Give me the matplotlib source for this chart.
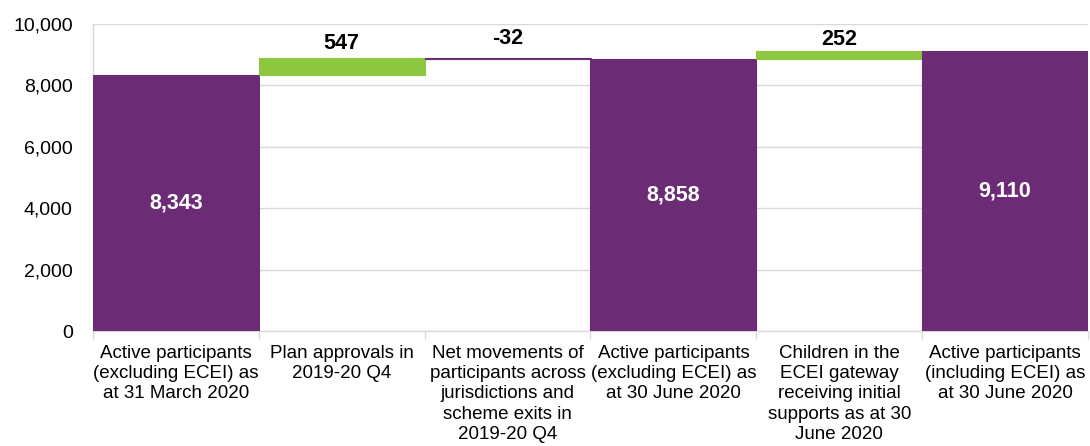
import matplotlib.pyplot as plt
from matplotlib.ticker import FuncFormatter, FixedLocator

plt.rcParams['font.family'] = ['Liberation Sans', 'DejaVu Sans']

categories = [
    'Active participants\n(excluding ECEI) as\nat 31 March 2020',
    'Plan approvals in\n2019-20 Q4',
    'Net movements of\nparticipants across\njurisdictions and\nscheme exits in\n2019-20 Q4',
    'Active participants\n(excluding ECEI) as\nat 30 June 2020',
    'Children in the\nECEI gateway\nreceiving initial\nsupports as at 30\nJune 2020',
    'Active participants\n(including ECEI) as\nat 30 June 2020',
]
values = [8343, 547, -32, 8858, 252, 9110]
is_total = [True, False, False, True, False, True]
# gap (in points) between a floating bar's top and its label
label_gap = [0, 6.5, 10, 0, 4.5, 0]

PURPLE = '#6B2C75'
GREEN = '#8DC63F'
GRID = '#D9D9D9'

fig = plt.figure(figsize=(10.9, 4.46), dpi=100)
ax = fig.add_axes([93 / 1090, 1 - 331 / 446, (1088 - 93) / 1090, (331 - 24) / 446])

running = 0
for i, (v, tot) in enumerate(zip(values, is_total)):
    if tot:
        bottom, height, color = 0, v, PURPLE
        running = v
    else:
        bottom = running if v >= 0 else running + v
        height = abs(v)
        color = GREEN if v >= 0 else PURPLE
        running += v
    ax.bar(i, height, bottom=bottom, width=1.0, color=color,
           edgecolor=color, linewidth=0.8, zorder=3)
    if tot:
        ax.text(i, v / 2, f'{v:,}', ha='center', va='center', color='white',
                fontsize=15.5, fontweight='bold', zorder=4)
    else:
        ax.annotate(f'{v:,}', (i, bottom + height), xytext=(0, label_gap[i]),
                    textcoords='offset points', ha='center', va='baseline',
                    color='black', fontsize=15.5, fontweight='bold', zorder=4)

ax.set_xlim(-0.5, len(values) - 0.5)
ax.set_ylim(0, 10000)
ax.set_yticks(range(0, 10001, 2000))
ax.yaxis.set_major_formatter(FuncFormatter(lambda y, _: f'{int(y):,}'))
ax.yaxis.grid(True, color=GRID, linewidth=1, zorder=0)
ax.tick_params(axis='y', length=0, labelsize=14, pad=14.5)

ax.xaxis.set_major_locator(FixedLocator([i - 0.5 for i in range(len(values) + 1)]))
ax.xaxis.set_minor_locator(FixedLocator(range(len(values))))
ax.set_xticklabels([])
ax.set_xticklabels(categories, minor=True)
ax.tick_params(axis='x', which='major', length=6, color=GRID, width=1)
ax.tick_params(axis='x', which='minor', length=0, labelsize=13.5, pad=10)
for lbl in ax.get_xticklabels(minor=True):
    lbl.set_linespacing(1.25)

for s in ['top', 'right']:
    ax.spines[s].set_visible(False)
for s in ['left', 'bottom']:
    ax.spines[s].set_color(GRID)
    ax.spines[s].set_linewidth(1)

fig.savefig('out.png', dpi=100)
